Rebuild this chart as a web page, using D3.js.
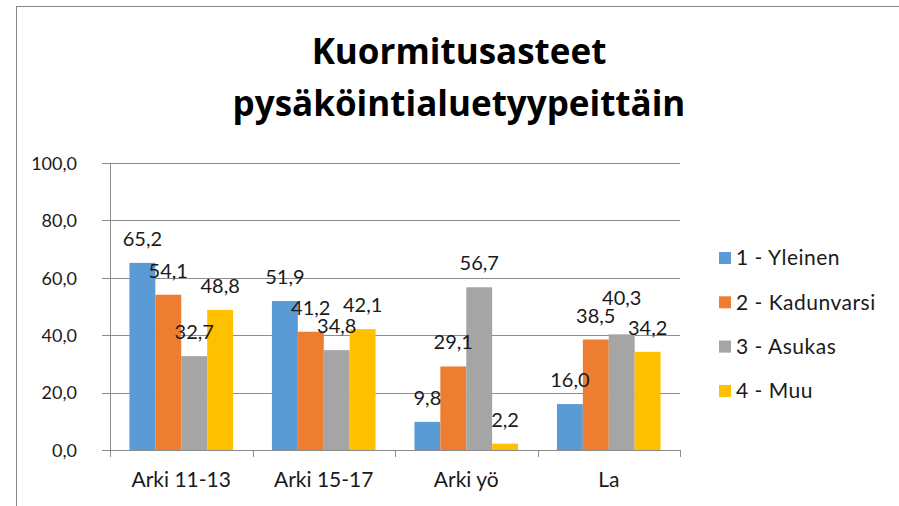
<!DOCTYPE html>
<html>
<head>
<meta charset="utf-8">
<script src="https://d3js.org/d3.v7.min.js"></script>
<style>
body { margin: 0; background: #fff; }
text { font-family: Lato, "Open Sans", sans-serif; fill: #1a1a1a; }
.title { font-family: "Open Sans", Lato, sans-serif; font-weight: bold; font-size: 35px; fill: #000; }
.y.axis text { font-size: 18px; }
.x.axis text { font-size: 21px; }
.label { font-size: 20px; }
.legend text { font-size: 21px; letter-spacing: 0.5px; }
</style>
</head>
<body>
<script>

var categories = ["Arki 11-13", "Arki 15-17", "Arki yö", "La"];
var seriesNames = ["1 - Yleinen", "2 - Kadunvarsi", "3 - Asukas", "4 - Muu"];
var yleinen = [65.2, 51.9, 9.8, 16.0];
var kadunvarsi = [54.1, 41.2, 29.1, 38.5];
var asukas = [32.7, 34.8, 56.7, 40.3];
var muu = [48.8, 42.1, 2.2, 34.2];
var yTicks = [0, 20, 40, 60, 80, 100];
var colors = ["#5B9BD5", "#ED7D31", "#A5A5A5", "#FFC000"];

var seriesValues = [yleinen, kadunvarsi, asukas, muu];
var fmt = function(v) { return v.toFixed(1).replace(".", ","); };

var W = 899, H = 506;
var gridColor = "#8c8c8c";

var svg = d3.select("body").append("svg")
    .attr("width", W)
    .attr("height", H);

// outer chart frame (right/bottom run off the picture)
svg.append("rect")
    .attr("x", 16.5).attr("y", 6.5)
    .attr("width", 900).attr("height", 520)
    .attr("fill", "#fff")
    .attr("stroke", "#868686");

svg.append("text").attr("class", "title")
    .attr("x", 459).attr("y", 64)
    .attr("text-anchor", "middle")
    .text("Kuormitusasteet");
svg.append("text").attr("class", "title")
    .attr("x", 459).attr("y", 116)
    .attr("text-anchor", "middle")
    .text("pysäköintialuetyypeittäin");

var x0 = d3.scaleBand()
    .domain(categories)
    .range([110, 680]);

var x1 = d3.scaleBand()
    .domain(seriesNames)
    .range([0, x0.bandwidth()])
    .paddingOuter(0.75);

var y = d3.scaleLinear()
    .domain([0, 100])
    .range([450, 163]);

// gridlines
svg.append("g")
    .selectAll("line")
    .data(yTicks)
  .join("line")
    .attr("x1", 102).attr("x2", 680)
    .attr("y1", function(d) { return Math.round(y(d)) + 0.5; })
    .attr("y2", function(d) { return Math.round(y(d)) + 0.5; })
    .attr("stroke", gridColor);

// y axis
var yAxis = d3.axisLeft(y)
    .tickValues(yTicks)
    .tickFormat(fmt)
    .tickSize(0)
    .tickPadding(33);

svg.append("g")
    .attr("class", "y axis")
    .attr("transform", "translate(110,0)")
    .call(yAxis)
    .call(function(g) { g.select(".domain").remove(); })
    .selectAll("text").attr("dy", "0.35em");

svg.append("line")
    .attr("x1", 110.5).attr("x2", 110.5)
    .attr("y1", 163).attr("y2", 457)
    .attr("stroke", gridColor);

// bars
function rows(c, ci) {
  return seriesNames.map(function(s, si) { return {s: s, si: si, v: seriesValues[si][ci]}; });
}

var groups = svg.append("g")
    .selectAll("g")
    .data(categories)
  .join("g")
    .attr("transform", function(d) { return "translate(" + x0(d) + ",0)"; });

groups.selectAll("rect")
    .data(rows)
  .join("rect")
    .attr("x", function(d) { return x1(d.s); })
    .attr("width", x1.bandwidth())
    .attr("y", function(d) { return y(d.v); })
    .attr("height", function(d) { return y(0) - y(d.v); })
    .attr("fill", function(d) { return colors[d.si]; });

// value labels above bars, nudged when they would collide with the previous one
var labelW = 42, labelH = 18;
groups.each(function(c, ci) {
  var data = rows(c, ci);
  var prev = null;
  data.forEach(function(d) {
    d.cx = x1(d.s) + x1.bandwidth() / 2;
    d.by = y(d.v) - 17;
    if (prev && Math.abs(d.cx - prev.cx) < labelW && Math.abs(d.by - prev.by) < labelH) {
      d.by = d.v >= prev.v ? prev.by - labelH : prev.by + labelH;
    }
    prev = d;
  });
  d3.select(this).selectAll("text")
      .data(data)
    .join("text")
      .attr("class", "label")
      .attr("x", function(d) { return d.cx; })
      .attr("y", function(d) { return d.by; })
      .attr("text-anchor", "middle")
      .text(function(d) { return fmt(d.v); });
});

// x axis
svg.append("line")
    .attr("x1", 110).attr("x2", 680)
    .attr("y1", 450.5).attr("y2", 450.5)
    .attr("stroke", gridColor);

var xAxis = d3.axisBottom(x0).tickSize(0).tickPadding(22);
svg.append("g")
    .attr("class", "x axis")
    .attr("transform", "translate(0,450)")
    .call(xAxis)
    .call(function(g) { g.select(".domain").remove(); });

svg.append("g")
    .selectAll("line")
    .data(categories.map(function(c) { return x0(c); }).concat([680]))
  .join("line")
    .attr("x1", function(d) { return Math.round(d) + 0.5; })
    .attr("x2", function(d) { return Math.round(d) + 0.5; })
    .attr("y1", 450).attr("y2", 457)
    .attr("stroke", gridColor);

// legend
var legend = svg.append("g").attr("class", "legend")
    .selectAll("g")
    .data(seriesNames)
  .join("g")
    .attr("transform", function(d, i) { return "translate(719," + (258 + i * 44.3) + ")"; });

legend.append("rect")
    .attr("x", 0).attr("y", -6)
    .attr("width", 12).attr("height", 12)
    .attr("fill", function(d, i) { return colors[i]; });

legend.append("text")
    .attr("x", 17).attr("dy", "0.35em")
    .text(function(d) { return d; });

</script>
</body>
</html>
